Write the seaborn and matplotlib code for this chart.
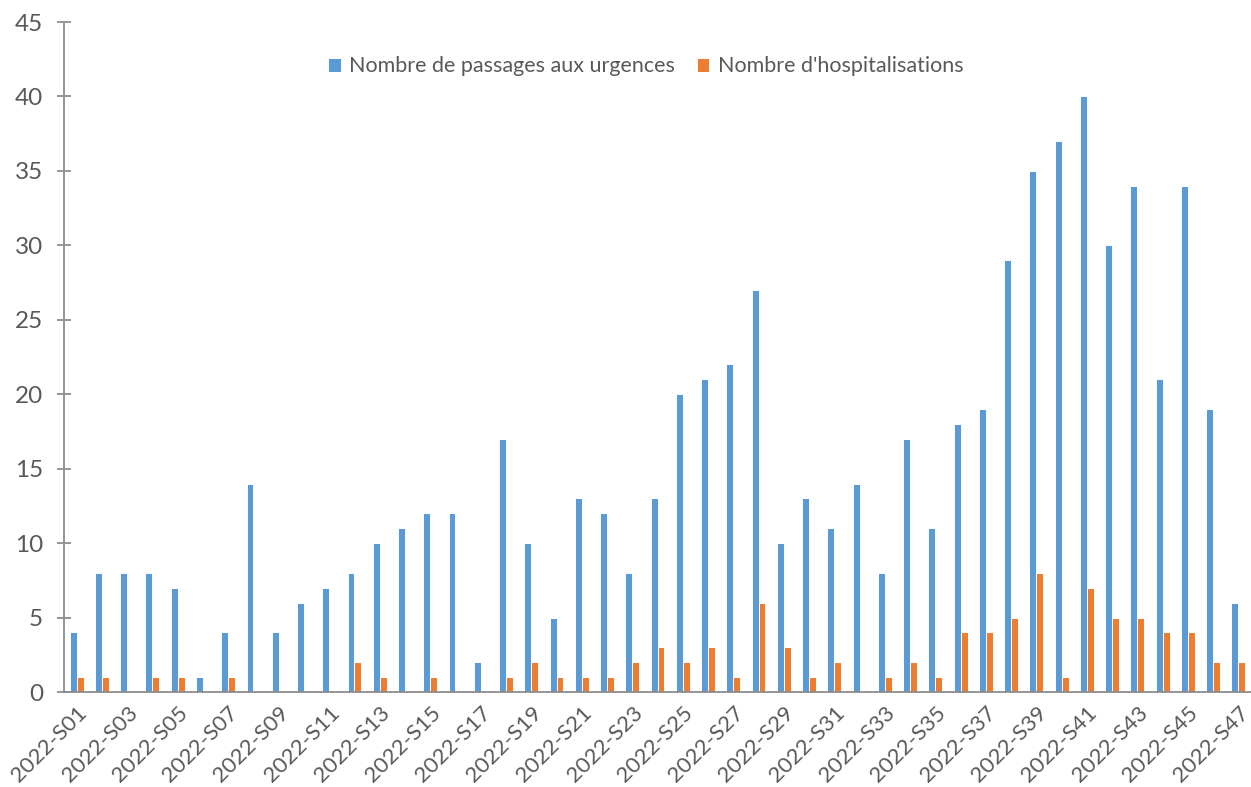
import matplotlib
matplotlib.use("Agg")
import matplotlib.pyplot as plt
import numpy as np
import pandas as pd
import seaborn as sns

weeks = [f"2022-S{i:02d}" for i in range(1, 48)]
passages = [4, 8, 8, 8, 7, 1, 4, 14, 4, 6, 7, 8, 10, 11, 12, 12, 2, 17, 10, 5,
            13, 12, 8, 13, 20, 21, 22, 27, 10, 13, 11, 14, 8, 17, 11, 18, 19, 29,
            35, 37, 40, 30, 34, 21, 34, 19, 6]
hospit = [1, 1, 0, 1, 1, 0, 1, 0, 0, 0, 0, 2, 1, 0, 1, 0, 0, 1, 2, 1,
          1, 1, 2, 3, 2, 3, 1, 6, 3, 1, 2, 0, 1, 2, 1, 4, 4, 5,
          8, 1, 7, 5, 5, 4, 4, 2, 2]
series_names = ["Nombre de passages aux urgences", "Nombre d'hospitalisations"]
colors = ["#5B9BD5", "#ED7D31"]

df = pd.concat([
    pd.DataFrame({"semaine": weeks, "valeur": passages, "serie": series_names[0]}),
    pd.DataFrame({"semaine": weeks, "valeur": hospit, "serie": series_names[1]}),
])

sns.set_style("white")
plt.rcParams["font.family"] = ["Lato", "DejaVu Sans"]
text_color = "#595959"
axis_color = "#8C8C8C"

fig = plt.figure(figsize=(12.51, 7.87), dpi=100)
ax = fig.add_axes([0.0512, 0.1207, 0.9488, 0.8513])

sns.barplot(data=df, x="semaine", y="valeur", hue="serie", order=weeks,
            hue_order=series_names, palette=colors, saturation=1, width=0.55,
            edgecolor="white", linewidth=0.7, ax=ax)

ax.set_xlim(-0.5, len(weeks) - 0.5)
ax.set_ylim(0, 45)
ax.set_yticks(np.arange(0, 46, 5))
ax.set_xticks(range(0, len(weeks), 2))
ax.set_xticklabels(weeks[::2], rotation=45, ha="right", rotation_mode="anchor")
ax.set_xlabel("")
ax.set_ylabel("")

for side in ["top", "right"]:
    ax.spines[side].set_visible(False)
for side in ["left", "bottom"]:
    ax.spines[side].set_color(axis_color)
    ax.spines[side].set_linewidth(1.3)

ax.tick_params(axis="y", direction="inout", length=10, width=1.3, color=axis_color,
               labelsize=17.5, labelcolor=text_color, left=True, pad=10)
ax.tick_params(axis="x", length=0, labelsize=16, labelcolor=text_color, pad=8)

leg = ax.legend(loc="center", bbox_to_anchor=(0.49, 0.934), ncol=2, frameon=False,
                fontsize=15.5, handlelength=0.6, handleheight=0.6,
                handletextpad=0.4, columnspacing=1.0)
for t in leg.get_texts():
    t.set_color(text_color)

fig.savefig("out.png", dpi=100)
